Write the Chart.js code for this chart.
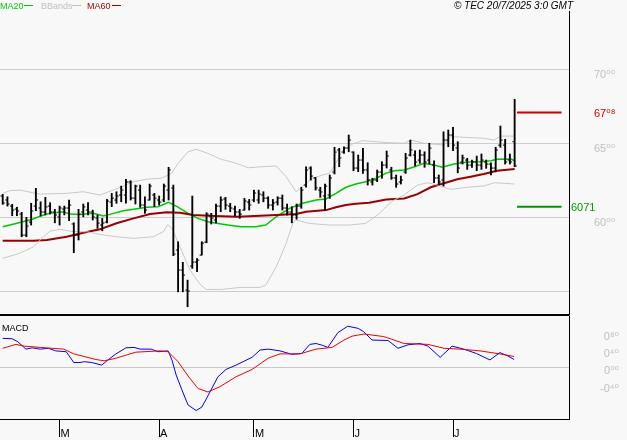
<!DOCTYPE html>
<html>
<head>
<meta charset="utf-8">
<title>TEC</title>
<script src="https://cdn.jsdelivr.net/npm/chart.js@4.4.0/dist/chart.umd.min.js"></script>
<style>
  body { margin: 0; background: #f8f8f8; }
  #wrap { position: relative; width: 627px; height: 440px; background: #f8f8f8; }
  canvas { position: absolute; left: 0; }
</style>
</head>
<body>
<div id="wrap">
  <canvas id="prix" width="627" height="316" style="top:0"></canvas>
  <canvas id="macd" width="627" height="124" style="top:316px"></canvas>
</div>
<script>
// daily bars, index 0 = first session shown
const opens = [61.44,61.17,60.76,60.56,60.22,58.80,59.68,60.76,60.63,60.36,
  60.76,60.36,60.02,60.56,60.63,59.55,58.80,60.36,60.49,60.36,
  59.95,59.48,59.68,61.03,61.17,61.51,61.51,62.39,61.30,61.84,
  60.83,61.17,61.51,61.17,61.17,61.84,61.98,57.79,56.44,55.09,
  56.71,56.98,57.45,58.33,60.09,59.82,60.76,61.24,60.76,60.56,
  60.36,60.49,61.03,61.17,61.17,61.51,61.30,60.83,61.03,61.30,
  60.63,60.36,60.16,60.76,62.18,63.33,62.66,61.84,61.44,61.51,
  63.06,64.55,64.41,64.68,64.41,63.33,63.87,63.20,62.39,62.52,
  63.06,63.53,63.20,62.66,62.39,63.06,64.21,64.21,63.87,64.21,
  63.87,63.53,62.66,62.52,65.22,65.56,64.68,63.74,63.87,63.53,
  63.74,63.53,63.74,63.60,63.33,64.88,64.88,63.87,65.11];
const highs = [61.55,61.39,60.88,60.68,60.34,60.00,60.95,61.96,61.05,61.35,
  60.99,60.54,60.76,60.76,61.17,59.63,60.54,60.90,60.99,60.49,
  60.16,59.93,61.21,61.62,61.73,62.11,62.57,62.47,62.18,62.18,
  61.39,62.25,61.62,61.44,62.25,63.38,62.18,58.35,56.96,55.76,
  61.44,57.22,58.35,60.31,60.27,60.90,61.39,61.35,60.95,60.76,
  60.54,61.28,61.21,61.84,61.84,61.73,61.39,61.21,61.39,61.51,
  60.90,60.72,60.90,62.03,63.42,63.42,62.70,62.03,62.25,62.86,
  64.73,64.66,64.77,65.56,64.43,64.21,64.66,63.69,62.64,63.20,
  63.76,64.48,63.38,62.86,62.79,64.32,65.22,64.50,64.55,64.43,
  65.00,63.82,62.86,65.78,65.90,66.08,65.11,64.21,63.99,63.87,
  64.14,64.28,63.87,63.69,64.73,66.17,65.27,64.28,67.97];
const lows = [60.88,60.76,60.11,60.11,58.69,58.69,59.48,60.45,60.09,60.16,
  60.22,59.63,59.48,60.16,59.77,57.61,58.47,60.04,60.16,59.82,
  59.26,59.09,59.63,60.72,60.95,61.05,60.95,61.17,60.90,60.68,
  60.27,61.17,60.72,60.83,61.05,61.17,57.41,54.97,54.97,53.96,
  56.55,56.33,57.45,58.28,59.55,59.63,60.38,60.54,60.38,60.09,
  59.93,60.49,60.49,61.05,60.95,61.05,60.61,60.49,60.83,60.49,
  60.16,59.63,59.87,60.61,62.03,62.52,61.84,61.35,60.49,61.28,
  62.93,63.42,64.32,64.43,63.15,63.08,62.97,62.18,62.18,62.41,
  62.64,63.33,62.57,62.03,62.25,62.97,64.14,63.47,63.65,63.38,
  63.60,62.34,62.18,62.11,64.77,64.50,63.01,63.60,63.24,63.38,
  63.15,63.24,63.31,62.86,63.08,64.73,63.60,63.60,63.42];
const closes = [60.97,60.90,60.49,60.43,58.80,59.41,60.43,61.17,60.36,60.70,
  60.36,60.16,60.63,60.63,60.83,58.80,60.22,60.70,60.36,60.02,
  59.61,59.61,61.10,61.30,61.44,61.84,62.39,61.30,62.11,60.83,
  60.49,62.11,61.30,61.03,62.11,63.20,57.52,56.44,56.10,55.02,
  56.98,57.11,58.26,60.22,59.95,60.76,61.17,60.83,60.63,60.36,
  60.22,61.10,60.83,61.64,61.57,61.30,60.83,60.97,61.30,60.63,
  60.36,60.16,60.76,61.84,63.20,62.79,61.98,61.71,62.11,62.66,
  64.41,64.01,64.68,65.22,63.33,63.87,63.20,62.52,62.52,63.06,
  63.53,64.14,62.66,62.25,62.52,64.01,64.55,63.74,64.21,63.74,
  64.68,62.66,62.39,65.22,65.56,64.88,63.33,64.01,63.53,63.74,
  63.53,63.87,63.60,63.33,64.55,65.22,63.74,63.74,63.47];

// indicator lines as [index, value]
const ma20 = [[0,59.37],[3,59.60],[6.1,59.86],[8.6,60.16],[10,60.27],[12.8,60.38],[14.2,60.22],[16.3,60.20],
  [19.1,60.27],[21.2,60.09],[22.6,60.20],[25.4,60.45],[27.6,60.54],[30.4,60.68],[32.8,60.72],[35,61.01],
  [36.8,60.72],[39.1,60.27],[41.2,59.93],[43.3,59.70],[45.4,59.59],[47.5,59.48],[50.3,59.37],[53.4,59.37],
  [55.5,59.48],[57.7,60.04],[60.5,60.61],[63.3,60.95],[66.1,61.17],[68.2,61.24],[70.3,61.62],[72.4,62.03],
  [74.5,62.25],[76.6,62.41],[78.8,62.64],[80.9,62.99],[82.6,63.15],[84.7,63.20],[86.9,63.42],[88.9,63.65],
  [91,63.53],[92.7,63.38],[95.2,63.60],[98,63.74],[100.8,63.76],[103,63.82],[104.3,63.92],[107.2,63.94],[108,63.82]];
const ma60 = [[0,58.42],[3.6,58.42],[6.5,58.42],[9.3,58.47],[13.5,58.69],[17,58.96],[20.5,59.19],[24,59.60],
  [27.6,59.93],[31.1,60.22],[34.6,60.34],[37.4,60.31],[40.2,60.16],[44.7,60.09],[49.6,60.04],[54.3,60.11],
  [57.7,60.16],[61.9,60.22],[64,60.38],[68.2,60.49],[70.3,60.68],[72.4,60.83],[74.5,60.92],[77.3,60.99],
  [80.9,61.20],[84.7,61.28],[87.5,61.57],[90.3,62.03],[93.1,62.30],[95.9,62.57],[98.7,62.74],[101.5,62.93],
  [104.3,63.15],[108,63.26]];
const bbUpper = [[0,61.62],[1.5,61.80],[3.6,61.84],[7.9,61.57],[13.5,61.62],[17,61.73],[20.5,61.51],[23.3,61.84],
  [27.6,62.41],[30.7,62.59],[33.5,62.64],[35.6,62.97],[37,63.65],[39.1,64.43],[40.8,64.60],[43.3,64.32],
  [46.1,63.92],[48.9,63.69],[51.8,63.35],[54.7,63.42],[57.7,63.47],[59.8,62.74],[61.9,61.73],[63.3,62.12],
  [65.4,62.64],[67.5,62.86],[68.9,62.97],[70.3,63.65],[71.7,64.55],[73.8,64.95],[75.9,65.18],[78.8,65.11],
  [80.9,65.05],[84.7,65.00],[86.1,65.22],[88.9,65.00],[93.1,64.88],[94.5,65.45],[97.3,65.41],[101.5,65.34],
  [103.7,65.22],[105.1,65.49],[107.8,65.49]];
const bbLower = [[0,57.23],[3.6,57.57],[6.5,58.01],[8.6,58.69],[10,59.07],[12.1,59.19],[14.9,59.03],[17.7,59.03],
  [20.5,58.85],[24,58.69],[27.6,58.58],[31.8,58.69],[33.9,59.03],[34.8,59.51],[35.7,59.26],[37.4,58.01],
  [39.5,56.44],[41.6,55.49],[42.9,55.13],[46.1,55.13],[50.3,55.27],[54.3,55.27],[55.5,55.42],[57.7,56.66],
  [59.8,58.24],[61.2,59.59],[61.9,59.82],[64.7,59.59],[68.9,59.48],[73.1,59.48],[76.6,59.59],[79.5,60.27],
  [80.9,60.73],[82.6,61.17],[84.7,61.51],[87.5,62.18],[89.6,62.34],[91.7,62.18],[94.5,61.89],[98,62.03],
  [101.5,62.12],[103.7,62.34],[105.8,62.30],[108,62.25]];

const macdLine = [[0,0.67],[2,0.66],[3.2,0.59],[4.9,0.42],[6.2,0.45],[7.9,0.42],[9.6,0.44],[11.2,0.38],
  [13.4,0.36],[15,0.11],[16.3,0.11],[17.2,0.13],[18.8,0.11],[20.9,0.05],[22.2,0.17],[23.9,0.31],[26,0.45],
  [27.7,0.46],[29,0.42],[31.3,0.42],[32.8,0.36],[34.9,0.38],[35.7,0.17],[36.6,-0.18],[37.8,-0.52],[39.1,-0.87],
  [40.8,-1.00],[42,-0.92],[43.3,-0.66],[45.4,-0.22],[47.1,-0.05],[49.2,0.05],[52.6,0.23],[54.3,0.40],[56,0.42],
  [58.5,0.38],[61,0.30],[63.1,0.32],[64.8,0.53],[66.1,0.55],[67.4,0.51],[68.6,0.46],[70.7,0.80],[72.8,0.95],
  [75,0.90],[76.2,0.82],[77.9,0.63],[81.3,0.62],[83.4,0.44],[85.5,0.52],[88,0.55],[89.7,0.49],[92.3,0.23],
  [94.8,0.49],[97.3,0.42],[99.9,0.32],[102.8,0.17],[104.9,0.34],[106.6,0.26],[107.9,0.18]];
const signalLine = [[0,0.44],[2.8,0.53],[4.5,0.49],[7.9,0.46],[12.9,0.42],[15,0.31],[19.7,0.18],[21.4,0.15],
  [23.9,0.21],[28.1,0.35],[33.2,0.38],[34.9,0.36],[37,0.13],[39.1,-0.20],[41.2,-0.49],[43.3,-0.57],[45.8,-0.45],
  [49.2,-0.22],[52.6,-0.05],[56,0.21],[58.5,0.31],[62.7,0.31],[66.1,0.42],[69.5,0.46],[72,0.63],[73.7,0.72],
  [76.2,0.77],[80.4,0.71],[84.7,0.55],[89.7,0.53],[93.1,0.44],[96.5,0.42],[100.7,0.38],[104.9,0.31],[107.9,0.25]];

const levelHigh = 67.08;
const levelLow = 60.71;
const levelSpan = [108.5, 117.9];

const priceTicks = [55, 60, 65, 70];
const macdTicks = [-0.4, 0, 0.4, 0.8];
const monthStart = [12, 33, 53, 74, 95];
const monthNames = ['M', 'A', 'M', 'J', 'J'];

const X_MIN = -0.57, X_MAX = 119.47;
const FONT = '"Liberation Sans", "DejaVu Sans", Arial, sans-serif';
const SUP = '⁰¹²³⁴⁵⁶⁷⁸⁹';

// 70 -> 70⁰⁰ like the original axis
function fmt(v) {
  const p = Math.abs(v).toFixed(2).split('.');
  return (v < 0 ? '-' : '') + p[0] + p[1].split('').map(d => SUP[+d]).join('');
}

function pts(arr) { return arr.map(p => ({x: p[0], y: p[1]})); }

// keep chart area fixed: no label padding pushed into the layout
function fixY(w) { return s => { s.width = w; s.paddingTop = 0; s.paddingBottom = 0; }; }
function fixX(s) { s.height = 21; s.paddingLeft = 0; s.paddingRight = 0; }

const mainDecor = {
  id: 'mainDecor',
  afterDraw(chart) {
    const ctx = chart.ctx;
    const ya = chart.scales.y;
    ctx.save();
    // panel separator
    ctx.fillStyle = '#000';
    ctx.fillRect(0, 314, chart.chartArea.right + 0.5, 2);
    // legend
    ctx.font = '9px ' + FONT;
    ctx.textBaseline = 'alphabetic';
    const leg = [['MA20', '#00c800', 0, 24], ['BBands', '#c0c0c0', 41, 72], ['MA60', '#990000', 87, 112]];
    leg.forEach(l => {
      ctx.fillStyle = l[1];
      ctx.fillText(l[0], l[2], 9);
      ctx.fillRect(l[3], 5, 9, 1);
    });
    // copyright
    ctx.font = 'italic 10px ' + FONT;
    ctx.fillStyle = '#000';
    ctx.textAlign = 'right';
    ctx.fillText('© TEC 20/7/2025 3:0 GMT', 573, 9);
    // level labels
    ctx.textAlign = 'left';
    ctx.textBaseline = 'middle';
    ctx.font = '11px ' + FONT;
    ctx.fillStyle = '#cc0000';
    ctx.fillText(fmt(levelHigh), 594, ya.getPixelForValue(levelHigh) + 1);
    ctx.fillStyle = '#009900';
    ctx.fillText(levelLow.toFixed(2).replace('.', ''), 571, ya.getPixelForValue(levelLow) + 1);
    ctx.restore();
  }
};

const macdDecor = {
  id: 'macdDecor',
  afterDraw(chart) {
    const ctx = chart.ctx;
    ctx.save();
    ctx.font = '9px ' + FONT;
    ctx.fillStyle = '#000';
    ctx.fillText('MACD', 2, 15);
    ctx.restore();
  }
};

const lineSet = (data, color, w) => ({
  type: 'line', data: pts(data), borderColor: color, borderWidth: w,
  pointRadius: 0, tension: 0, fill: false, order: 2
});
const tickSet = (vals, dx) => ({
  type: 'line', showLine: false, data: vals.map((v, i) => ({x: i + dx, y: v})),
  pointStyle: 'line', pointRadius: 1.1, pointBorderWidth: 1, pointBorderColor: '#000',
  pointBackgroundColor: '#000', order: 0
});

new Chart(document.getElementById('prix'), {
  type: 'line',
  data: {
    datasets: [
      lineSet(bbUpper, '#c8c8c8', 1),
      lineSet(bbLower, '#c8c8c8', 1),
      lineSet(ma60, '#990000', 2),
      lineSet(ma20, '#00c800', 1.5),
      {
        type: 'bar', data: highs.map((h, i) => ({x: i, y: [lows[i], h]})),
        backgroundColor: '#000', borderWidth: 0, barThickness: 1.2, order: 0
      },
      tickSet(opens, -0.23),
      tickSet(closes, 0.23),
      lineSet([[levelSpan[0], levelHigh], [levelSpan[1], levelHigh]], '#cc0000', 2),
      lineSet([[levelSpan[0], levelLow], [levelSpan[1], levelLow]], '#009900', 2)
    ]
  },
  options: {
    responsive: false, animation: false, events: [],
    layout: { autoPadding: false, padding: { top: 11, bottom: 2, left: 0, right: 0 } },
    plugins: { legend: { display: false }, tooltip: { enabled: false } },
    scales: {
      x: { type: 'linear', min: X_MIN, max: X_MAX, display: false, offset: false },
      y: {
        position: 'right', min: 53.47, max: 73.94,
        afterFit: fixY(58),
        afterBuildTicks: s => { s.ticks = priceTicks.map(v => ({value: v})); },
        grid: { color: '#cccccc', drawTicks: false },
        border: { display: true, color: '#000' },
        ticks: {
          color: '#c0c0c0', font: { family: FONT, size: 11 }, padding: 25, labelOffset: 6,
          callback: v => v === 55 ? '' : fmt(v)
        }
      }
    }
  },
  plugins: [mainDecor]
});

new Chart(document.getElementById('macd'), {
  type: 'line',
  data: {
    datasets: [
      { data: pts(signalLine), borderColor: '#ee0000', borderWidth: 1, pointRadius: 0, tension: 0 },
      { data: pts(macdLine), borderColor: '#0000ee', borderWidth: 1, pointRadius: 0, tension: 0 }
    ]
  },
  options: {
    responsive: false, animation: false, events: [],
    layout: { autoPadding: false, padding: { top: 0, bottom: 0, left: 0, right: 8 } },
    plugins: { legend: { display: false }, tooltip: { enabled: false } },
    scales: {
      x: {
        type: 'linear', min: X_MIN, max: X_MAX, offset: false,
        afterBuildTicks: s => { s.ticks = monthStart.map(v => ({value: v})); },
        afterFit: fixX,
        grid: { drawOnChartArea: false, drawTicks: true, tickLength: 18, color: '#000' },
        border: { display: true, color: '#000' },
        ticks: {
          align: 'start', labelOffset: 1, padding: -10, color: '#000', maxRotation: 0, autoSkip: false,
          font: { family: FONT, size: 11 },
          callback: (v, i) => monthNames[i]
        }
      },
      y: {
        position: 'right', min: -1.195, max: 1.186,
        afterFit: fixY(50),
        afterBuildTicks: s => { s.ticks = macdTicks.map(v => ({value: v})); },
        grid: { drawTicks: false, color: c => (c.tick && c.tick.value === 0) ? '#c8c8c8' : 'rgba(0,0,0,0)' },
        border: { display: true, color: '#000' },
        ticks: {
          color: '#c0c0c0', font: { family: FONT, size: 11 }, crossAlign: 'far', padding: 23, labelOffset: 4,
          callback: v => fmt(v)
        }
      }
    }
  },
  plugins: [macdDecor]
});
</script>
</body>
</html>
